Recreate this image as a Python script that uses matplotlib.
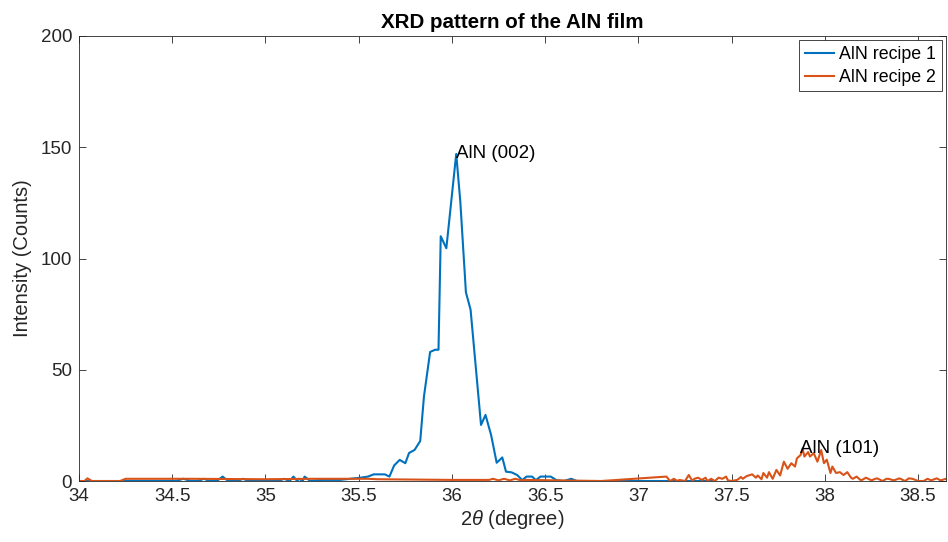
import numpy as np
import matplotlib.pyplot as plt

plt.rcParams['font.family'] = ['Liberation Sans', 'DejaVu Sans']
plt.rcParams['mathtext.fontset'] = 'custom'
plt.rcParams['mathtext.it'] = 'Liberation Sans:italic'
plt.rcParams['mathtext.rm'] = 'Liberation Sans'

# datos
x1 = [34.00, 34.20, 34.40, 34.52, 34.56, 34.60, 34.64, 34.67, 34.70, 34.74,
      34.77, 34.80, 34.85, 34.88, 34.91, 35.00, 35.07, 35.10, 35.13, 35.15,
      35.17, 35.18, 35.20, 35.21, 35.24, 35.30, 35.40, 35.51, 35.55, 35.58,
      35.61, 35.64, 35.665, 35.69, 35.72, 35.75, 35.77, 35.80, 35.83, 35.85,
      35.883, 35.91, 35.928, 35.94, 35.97, 36.023, 36.045, 36.075, 36.10,
      36.156, 36.18, 36.21, 36.24, 36.27, 36.29, 36.32, 36.35, 36.377, 36.40,
      36.43, 36.45, 36.475, 36.53, 36.56, 36.60, 36.64, 36.67, 36.70, 36.80,
      36.90, 37.00, 37.20, 37.40]
y1 = [0, 0, 0, 0, 1, 0, 0, 1, 0, 0,
      2, 0, 0, 1, 0, 0, 0, 1, 0, 2,
      0, 1, 0, 2, 0, 0.5, 0.5, 1.5, 2, 3,
      3, 3, 2, 7, 9.5, 8, 12.6, 14, 18, 38,
      58, 59, 59, 110, 104.6, 147, 125.5, 84.8, 77,
      25.2, 29.7, 20.7, 8.2, 10.6, 4.2, 3.9, 2.7, 0.4, 2,
      2, 0.4, 2, 2, 0.4, 0, 1, 0, 0, 0,
      0, 0, 0, 0]

x2 = [34.00, 34.03, 34.045, 34.07, 34.22, 34.25, 34.60, 35.00, 35.25, 35.55,
      35.60, 36.00, 36.20, 36.22, 36.25, 36.28, 36.31, 36.34, 36.37, 36.40,
      36.80, 37.15, 37.17, 37.19, 37.21, 37.22, 37.25, 37.27, 37.29, 37.30,
      37.32, 37.34, 37.36, 37.37, 37.39, 37.41, 37.43, 37.45, 37.47, 37.48,
      37.50, 37.53, 37.55, 37.56, 37.58, 37.61, 37.63, 37.64, 37.66, 37.67,
      37.69, 37.70, 37.72, 37.74, 37.76, 37.78, 37.80, 37.82, 37.84, 37.85,
      37.87, 37.88, 37.89, 37.91, 37.92, 37.94, 37.96, 37.98, 37.995, 38.01,
      38.03, 38.04, 38.06, 38.08, 38.10, 38.12, 38.14, 38.15, 38.17, 38.19,
      38.20, 38.22, 38.25, 38.27, 38.28, 38.31, 38.33, 38.34, 38.37, 38.40,
      38.43, 38.45, 38.47, 38.50, 38.53, 38.55, 38.57, 38.60, 38.62, 38.65]
y2 = [0, 0, 1.2, 0, 0, 1, 1, 0.8, 1, 1,
      0.8, 0.5, 0.5, 1, 0.3, 1, 0.3, 1, 0.3, 0.5,
      0, 2, 0, 1, 0, 0.5, 0, 2.7, 0, 1,
      1.5, 0.5, 1.5, 0, 1, 0, 1.5, 1, 2, 0.3,
      0, 0.5, 1.8, 1, 2.2, 3, 1.5, 2.5, 0.8, 3.6,
      1.5, 4, 1, 5, 2.5, 8.7, 5.5, 8, 6.5, 10.2,
      11.7, 14.7, 11, 13, 11, 12.5, 8.7, 13.9, 8, 9.6,
      3.6, 6.5, 3.6, 4, 2.7, 4, 1.5, 1, 2, 0.5,
      0.5, 1.5, 0.3, 1, 1.2, 0, 1, 1, 0.3, 1.2,
      0, 1.2, 1, 0, 0, 1, 0.3, 1.2, 0.3, 1]

fig = plt.figure(figsize=(9.48, 5.42), dpi=100)
ax = fig.add_axes([0.0833, 0.1125, 0.9147, 0.8211])

ax.plot(x1, y1, color='#0072BD', lw=1.5, label='AlN recipe 1')
ax.plot(x2, y2, color='#D95319', lw=1.5, label='AlN recipe 2')

ax.text(36.023, 147, 'AlN (002)', fontsize=13.5, va='center', ha='left')
ax.text(37.865, 14.5, 'AlN (101)', fontsize=13.5, va='center', ha='left')

ax.set_xlim(34, 38.65)
ax.set_ylim(0, 200)
ax.set_xticks(np.arange(34, 38.6, 0.5))
ax.set_xticklabels(['34', '34.5', '35', '35.5', '36', '36.5', '37', '37.5', '38', '38.5'])
ax.set_yticks([0, 50, 100, 150, 200])

ax.set_title('XRD pattern of the AlN film', fontsize=14.8, fontweight='bold', pad=6)
ax.set_xlabel(r'2$\theta$ (degree)', fontsize=14.5, color='#262626', labelpad=2)
ax.set_ylabel('Intensity (Counts)', fontsize=14.5, color='#262626', labelpad=6)

ax.tick_params(direction='in', top=True, right=True, length=5, width=0.6,
               labelsize=13.5, colors='#262626', pad=5)
for s in ax.spines.values():
    s.set_color('#262626')
    s.set_linewidth(0.6)

leg = ax.legend(loc='upper right', fontsize=12.8, fancybox=False, framealpha=1,
                edgecolor='#262626', borderaxespad=0.25, handlelength=1.65,
                borderpad=0.3, labelspacing=0.35, handletextpad=0.3)
leg.get_frame().set_linewidth(0.6)

plt.savefig('out.png', dpi=100)
